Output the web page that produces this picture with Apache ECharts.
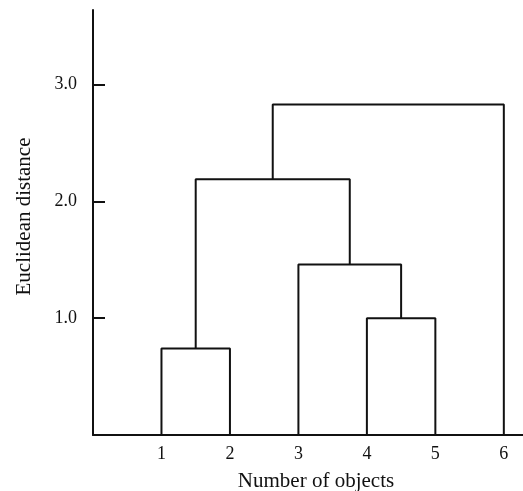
<!DOCTYPE html>
<html>
<head>
<meta charset="utf-8">
<script src="https://cdn.jsdelivr.net/npm/echarts@6/dist/echarts.min.js"></script>
<style>
  html, body { margin: 0; padding: 0; background: #fff; }
  #chart { width: 523px; height: 491px; }
</style>
</head>
<body>
<div id="chart"></div>
<script>
// leaves sit at x = 1..6
const leafLabels = ['1', '2', '3', '4', '5', '6']
// merges, linkage style: ids 0-5 are leaves, 6.. are the merges below
const mergeA = [0, 3, 2, 6, 9]
const mergeB = [1, 4, 7, 8, 5]
const mergeHeight = [0.74, 1.0, 1.46, 2.19, 2.83]
const yTicks = [1, 2, 3]

const font = 'Liberation Serif, Times New Roman, serif'
const ink = '#111'

// x position and height of every node
const nodeX = leafLabels.map((l, i) => i + 1)
const nodeH = leafLabels.map(() => 0)
mergeA.forEach((a, i) => {
  const b = mergeB[i]
  nodeX.push((nodeX[a] + nodeX[b]) / 2)
  nodeH.push(mergeHeight[i])
})

// one U-shaped polyline per merge
const series = mergeA.map((a, i) => {
  const b = mergeB[i]
  const h = mergeHeight[i]
  return {
    type: 'line',
    symbol: 'none',
    silent: true,
    animation: false,
    lineStyle: { color: ink, width: 2 },
    data: [
      [nodeX[a], nodeH[a]],
      [nodeX[a], h],
      [nodeX[b], h],
      [nodeX[b], nodeH[b]]
    ]
  }
})

const chart = echarts.init(document.getElementById('chart'))
chart.setOption({
  backgroundColor: '#fff',
  grid: { left: 93, right: 0, top: 10, bottom: 56, outerBoundsMode: 'none', containLabel: false },
  xAxis: {
    type: 'value',
    min: 0,
    max: 6.28,
    interval: 1,
    name: 'Number of objects',
    nameLocation: 'middle',
    nameGap: 36,
    nameTextStyle: { fontFamily: font, fontSize: 21, color: ink, padding: [0, 0, 0, 16] },
    axisLine: { lineStyle: { color: ink, width: 2 } },
    axisTick: { show: false },
    splitLine: { show: false },
    axisLabel: {
      margin: 10,
      fontFamily: font,
      fontSize: 18,
      color: ink,
      showMaxLabel: false,
      formatter: v => (v >= 1 && v <= leafLabels.length ? leafLabels[v - 1] : '')
    }
  },
  yAxis: {
    type: 'value',
    min: 0,
    max: 3.64,
    interval: 1,
    name: 'Euclidean distance',
    nameLocation: 'middle',
    nameGap: 58,
    nameTextStyle: { fontFamily: font, fontSize: 21, color: ink, padding: [0, 0, 0, 12] },
    axisLine: { show: true, lineStyle: { color: ink, width: 2 } },
    axisTick: { show: true, inside: true, length: 12, lineStyle: { color: ink, width: 2 } },
    splitLine: { show: false },
    axisLabel: {
      margin: 16,
      fontFamily: font,
      fontSize: 18,
      color: ink,
      showMaxLabel: false,
      formatter: v => (yTicks.includes(v) ? v.toFixed(1) : '')
    }
  },
  series: series
})
</script>
</body>
</html>
